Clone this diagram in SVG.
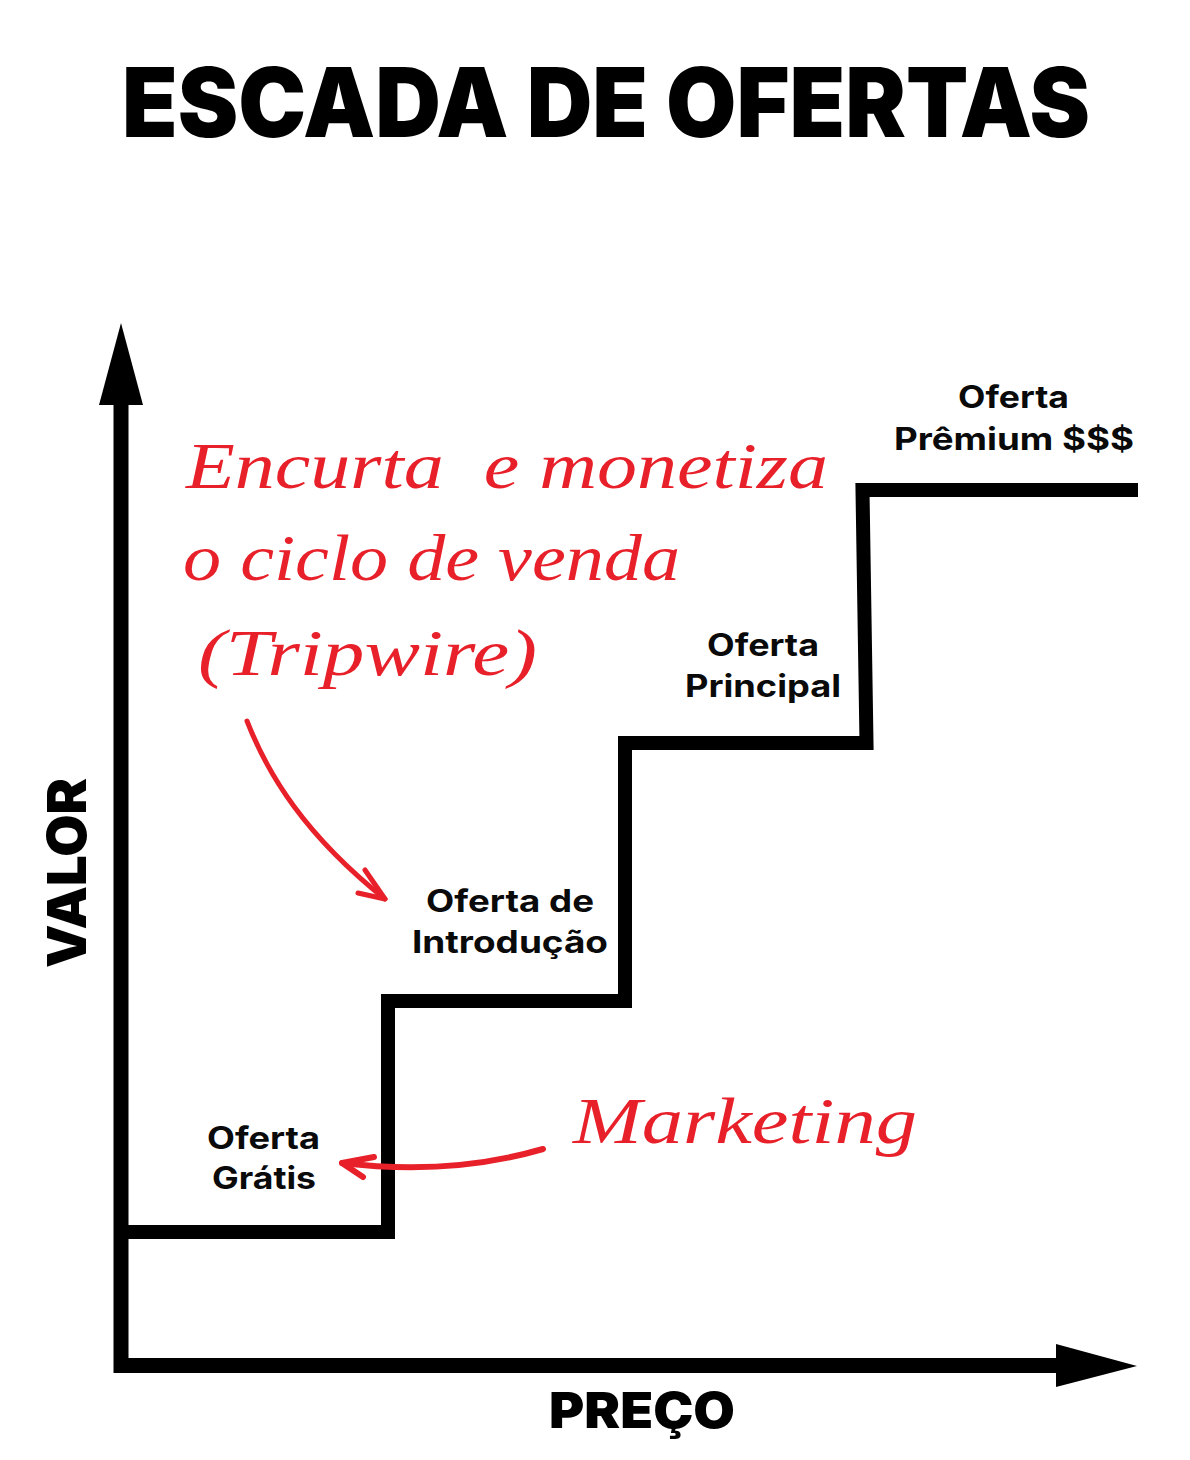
<svg xmlns="http://www.w3.org/2000/svg" width="1190" height="1460" viewBox="0 0 1190 1460">
  <style>
    .title { font-family: Inter, "DejaVu Sans", sans-serif; font-weight: 900; fill: #000; }
    .axislbl { font-family: Inter, "DejaVu Sans", sans-serif; font-weight: 900; fill: #000; }
    .lbl { font-family: Inter, "DejaVu Sans", sans-serif; font-weight: 700; font-size: 31px; fill: #0a0a0a; text-anchor: middle; }
    .script { font-family: "Liberation Serif", "DejaVu Serif", serif; font-style: italic; font-size: 66px; fill: #E8202A; }
    .red { fill: none; stroke: #E8202A; stroke-linecap: round; stroke-linejoin: round; }
    .blk { fill: none; stroke: #000; stroke-linejoin: miter; }
  </style>
  <rect width="1190" height="1460" fill="#fff"/>

  <g id="title">
    <text class="title" x="122" y="137" font-size="96" textLength="968" lengthAdjust="spacingAndGlyphs">ESCADA DE OFERTAS</text>
  </g>

  <g id="axes">
    <path class="blk" d="M121,400 V1365.5 H1060" stroke-width="15"/>
    <polygon points="121,323 99,405 143,405" fill="#000"/>
    <polygon points="1137,1366 1056,1344 1056,1387" fill="#000"/>
    <text class="axislbl" transform="translate(86,968) rotate(-90)" font-size="54" textLength="190" lengthAdjust="spacingAndGlyphs">VALOR</text>
    <text class="axislbl" x="549" y="1428" font-size="50" textLength="186" lengthAdjust="spacingAndGlyphs">PREÇO</text>
  </g>

  <g id="stairs">
    <path class="blk" d="M121,1232 H388 V1001 H625 V743 H866.5 L862.5,490 H1138" stroke-width="14"/>
  </g>

  <g id="node-gratis">
    <text class="lbl" x="263.5" y="1149" textLength="113" lengthAdjust="spacingAndGlyphs">Oferta</text>
    <text class="lbl" x="264" y="1189" textLength="104" lengthAdjust="spacingAndGlyphs">Grátis</text>
  </g>
  <g id="node-introducao">
    <text class="lbl" x="510" y="912" textLength="168" lengthAdjust="spacingAndGlyphs">Oferta de</text>
    <text class="lbl" x="510" y="953" textLength="196" lengthAdjust="spacingAndGlyphs">Introdução</text>
  </g>
  <g id="node-principal">
    <text class="lbl" x="763" y="656" textLength="112" lengthAdjust="spacingAndGlyphs">Oferta</text>
    <text class="lbl" x="763" y="697" textLength="156" lengthAdjust="spacingAndGlyphs">Principal</text>
  </g>
  <g id="node-premium">
    <text class="lbl" x="1013.5" y="408" textLength="111" lengthAdjust="spacingAndGlyphs">Oferta</text>
    <text class="lbl" x="1014" y="450" textLength="240" lengthAdjust="spacingAndGlyphs">Prêmium $$$</text>
  </g>

  <g id="note-tripwire">
    <text class="script" x="186" y="488" style="white-space:pre" textLength="642" lengthAdjust="spacingAndGlyphs">Encurta  e monetiza</text>
    <text class="script" x="183" y="580" textLength="497" lengthAdjust="spacingAndGlyphs">o ciclo de venda</text>
    <text class="script" x="198" y="675" textLength="339" lengthAdjust="spacingAndGlyphs">(Tripwire)</text>
  </g>
  <g id="note-marketing">
    <text class="script" x="573" y="1143" textLength="344" lengthAdjust="spacingAndGlyphs">Marketing</text>
  </g>

  <g id="connectors">
    <path class="red" d="M247,721 C268,775 305,835 385,899" stroke-width="5"/>
    <path class="red" d="M365,870 L385,899 L358,893" stroke-width="5"/>
    <path class="red" d="M543,1149 Q450,1176 342,1163" stroke-width="6"/>
    <path class="red" d="M374,1157 L342,1163 L363,1177" stroke-width="6"/>
  </g>
</svg>
